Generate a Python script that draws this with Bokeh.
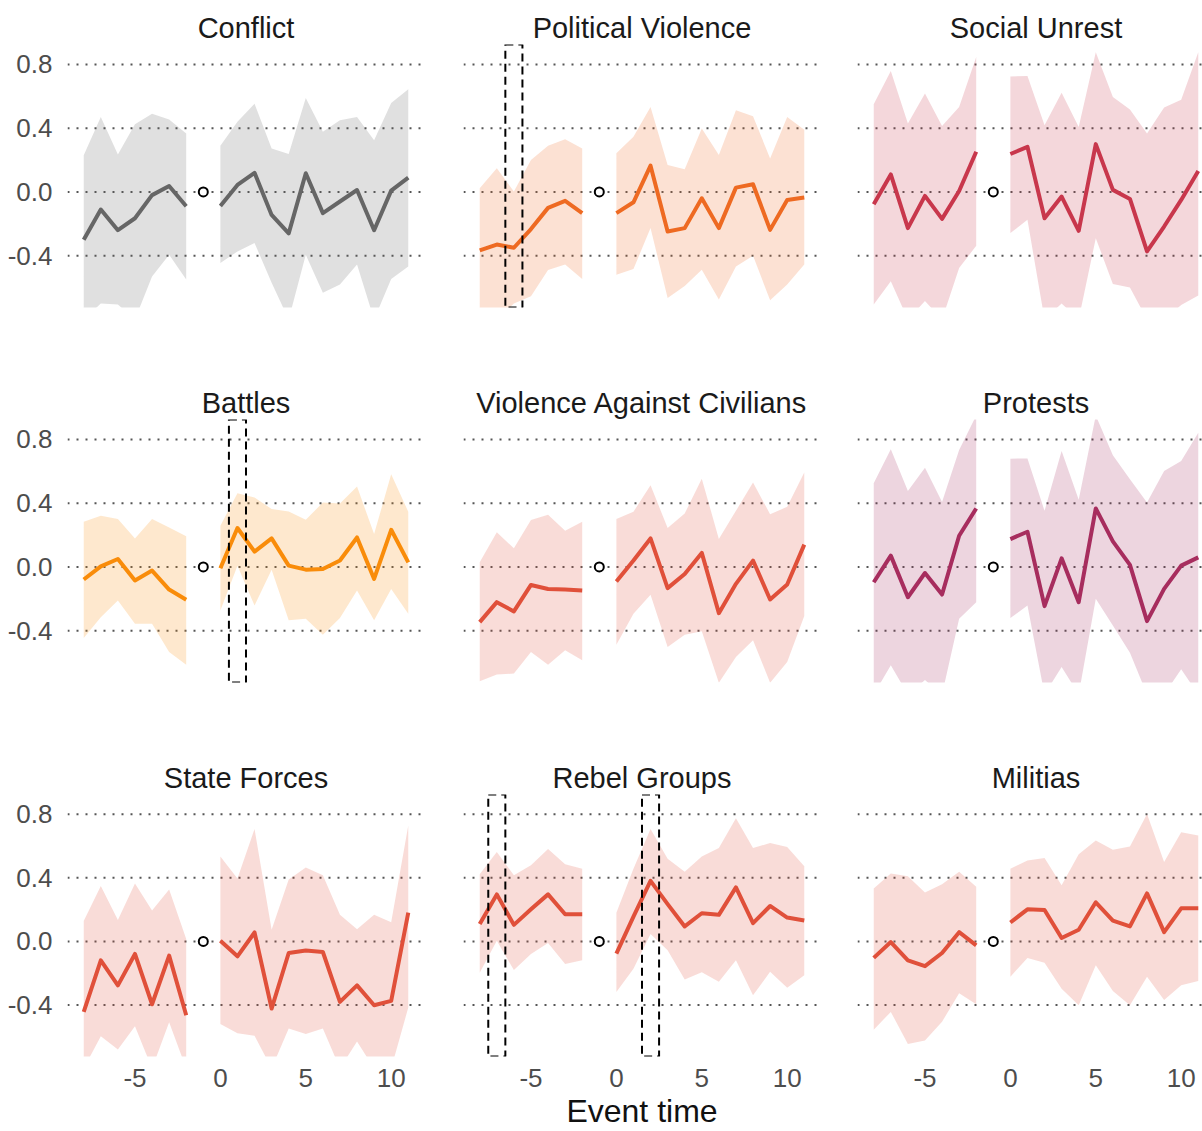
from bokeh.plotting import figure
from bokeh.layouts import gridplot
from bokeh.models import Range1d, FixedTicker, PrintfTickFormatter, Span
from bokeh.embed import file_html
from bokeh.resources import INLINE

# ---------------- data ----------------
event_time = [-8, -7, -6, -5, -4, -3, -2, 0, 1, 2, 3, 4, 5, 6, 7, 8, 9, 10, 11]
ref_time = -1
ref_value = 0.0
y_ticks = [-0.4, 0.0, 0.4, 0.8]
x_ticks = [-5, 0, 5, 10]

conflict_est = [-0.30, -0.11, -0.24, -0.165, -0.02, 0.037, -0.09, -0.088, 0.044, 0.12, -0.144, -0.26, 0.117, -0.133, -0.06, 0.012, -0.24, 0.008, 0.09]
conflict_hi = [0.23, 0.47, 0.235, 0.425, 0.49, 0.455, 0.367, 0.29, 0.44, 0.554, 0.273, 0.238, 0.59, 0.377, 0.45, 0.47, 0.325, 0.558, 0.644]
conflict_lo = [-0.80, -0.70, -0.706, -0.80, -0.53, -0.394, -0.55, -0.446, -0.373, -0.32, -0.57, -0.80, -0.394, -0.633, -0.58, -0.456, -0.80, -0.546, -0.467]

pv_est = [-0.367, -0.33, -0.35, -0.233, -0.10, -0.056, -0.133, -0.133, -0.065, 0.165, -0.248, -0.227, -0.04, -0.227, 0.027, 0.048, -0.238, -0.05, -0.035]
pv_hi = [0.023, 0.148, 0.002, 0.20, 0.29, 0.33, 0.273, 0.242, 0.346, 0.533, 0.169, 0.142, 0.398, 0.231, 0.513, 0.475, 0.21, 0.47, 0.39]
pv_lo = [-0.80, -0.80, -0.70, -0.654, -0.49, -0.456, -0.546, -0.52, -0.483, -0.227, -0.665, -0.59, -0.488, -0.675, -0.467, -0.40, -0.68, -0.58, -0.456]

su_est = [-0.077, 0.11, -0.227, -0.025, -0.169, 0.006, 0.252, 0.238, 0.283, -0.165, -0.029, -0.244, 0.30, 0.013, -0.044, -0.373, -0.217, -0.05, 0.131]
su_hi = [0.55, 0.758, 0.429, 0.617, 0.413, 0.533, 0.846, 0.725, 0.727, 0.419, 0.623, 0.408, 0.877, 0.596, 0.517, 0.367, 0.529, 0.579, 0.877]
su_lo = [-0.706, -0.56, -0.80, -0.685, -0.80, -0.477, -0.338, -0.258, -0.175, -0.80, -0.70, -0.80, -0.29, -0.577, -0.60, -0.80, -0.80, -0.71, -0.65]

battles_est = [-0.079, 0.004, 0.05, -0.085, -0.023, -0.142, -0.206, -0.008, 0.244, 0.096, 0.179, 0.008, -0.017, -0.013, 0.04, 0.185, -0.075, 0.233, 0.029]
battles_hi = [0.283, 0.321, 0.30, 0.179, 0.30, 0.248, 0.192, 0.258, 0.463, 0.435, 0.363, 0.348, 0.296, 0.404, 0.398, 0.504, 0.206, 0.581, 0.346]
battles_lo = [-0.446, -0.315, -0.21, -0.356, -0.356, -0.533, -0.613, -0.273, 0.008, -0.242, -0.017, -0.335, -0.325, -0.425, -0.321, -0.148, -0.335, -0.138, -0.294]

vac_est = [-0.346, -0.221, -0.279, -0.113, -0.138, -0.142, -0.148, -0.092, 0.04, 0.179, -0.133, -0.044, 0.088, -0.29, -0.106, 0.04, -0.204, -0.11, 0.14]
vac_hi = [0.029, 0.217, 0.117, 0.294, 0.327, 0.227, 0.283, 0.30, 0.346, 0.513, 0.244, 0.335, 0.554, 0.175, 0.352, 0.529, 0.331, 0.377, 0.592]
vac_lo = [-0.717, -0.675, -0.669, -0.533, -0.613, -0.523, -0.585, -0.488, -0.294, -0.175, -0.502, -0.425, -0.404, -0.727, -0.565, -0.46, -0.727, -0.596, -0.308]

protests_est = [-0.096, 0.071, -0.19, -0.038, -0.173, 0.196, 0.367, 0.175, 0.221, -0.246, 0.054, -0.221, 0.367, 0.16, 0.013, -0.34, -0.138, 0.008, 0.06]
protests_hi = [0.525, 0.738, 0.477, 0.623, 0.408, 0.733, 0.95, 0.679, 0.681, 0.352, 0.727, 0.421, 0.95, 0.70, 0.55, 0.404, 0.602, 0.665, 0.842]
protests_lo = [-0.80, -0.617, -0.80, -0.71, -0.80, -0.325, -0.221, -0.321, -0.242, -0.80, -0.627, -0.80, -0.20, -0.367, -0.538, -0.80, -0.80, -0.642, -0.80]

sf_est = [-0.444, -0.119, -0.277, -0.079, -0.396, -0.09, -0.465, 0.004, -0.094, 0.056, -0.423, -0.073, -0.058, -0.067, -0.381, -0.277, -0.402, -0.375, 0.181]
sf_hi = [0.129, 0.348, 0.135, 0.365, 0.194, 0.327, 0.015, 0.535, 0.396, 0.708, 0.073, 0.39, 0.465, 0.417, 0.167, 0.077, 0.167, 0.121, 0.729]
sf_lo = [-0.80, -0.598, -0.681, -0.535, -0.80, -0.51, -0.80, -0.52, -0.579, -0.594, -0.80, -0.548, -0.583, -0.548, -0.80, -0.631, -0.80, -0.80, -0.417]

rebel_est = [0.11, 0.296, 0.104, 0.202, 0.296, 0.171, 0.171, -0.077, 0.156, 0.381, 0.235, 0.094, 0.177, 0.167, 0.34, 0.115, 0.223, 0.15, 0.131]
rebel_hi = [0.423, 0.563, 0.417, 0.479, 0.581, 0.485, 0.458, 0.181, 0.458, 0.708, 0.521, 0.438, 0.535, 0.588, 0.775, 0.588, 0.619, 0.594, 0.473]
rebel_lo = [-0.198, 0.004, -0.181, -0.079, -0.01, -0.142, -0.119, -0.319, -0.173, 0.046, -0.056, -0.24, -0.194, -0.254, -0.119, -0.34, -0.192, -0.292, -0.213]

militia_est = [-0.104, -0.004, -0.119, -0.156, -0.073, 0.058, -0.025, 0.119, 0.202, 0.198, 0.021, 0.073, 0.246, 0.131, 0.094, 0.302, 0.058, 0.208, 0.208]
militia_hi = [0.333, 0.427, 0.41, 0.308, 0.36, 0.438, 0.344, 0.458, 0.51, 0.525, 0.354, 0.548, 0.635, 0.577, 0.598, 0.802, 0.50, 0.688, 0.667]
militia_lo = [-0.556, -0.444, -0.646, -0.625, -0.506, -0.327, -0.396, -0.223, -0.104, -0.135, -0.298, -0.402, -0.15, -0.313, -0.402, -0.223, -0.369, -0.277, -0.25]

titles = ["Conflict", "Political Violence", "Social Unrest",
          "Battles", "Violence Against Civilians", "Protests",
          "State Forces", "Rebel Groups", "Militias"]
highlights = [[], [-6], [], [1], [], [], [], [-7, 2], []]
x_title = "Event time"

# ---------------- styling ----------------
colors = ["#666666", "#ee6a22", "#c8374c",
          "#f98c0a", "#e0503a", "#a72d5e",
          "#e0503a", "#e0503a", "#e0503a"]
series = [(conflict_est, conflict_lo, conflict_hi), (pv_est, pv_lo, pv_hi), (su_est, su_lo, su_hi),
          (battles_est, battles_lo, battles_hi), (vac_est, vac_lo, vac_hi), (protests_est, protests_lo, protests_hi),
          (sf_est, sf_lo, sf_hi), (rebel_est, rebel_lo, rebel_hi), (militia_est, militia_lo, militia_hi)]

FONT = "Liberation Sans"
TITLE_PX = 29
# Arial/Liberation Sans advance widths (per 1000 em) to centre titles over the full (cropped) panel
ADV = {"S": 667, "o": 556, "c": 500, "i": 222, "a": 556, "l": 222, " ": 278, "U": 722,
       "n": 556, "r": 333, "e": 556, "s": 500, "t": 278, "P": 667, "M": 833}

Y_LO, Y_HI = -0.725, 0.925
X_LO, X_HI = -8.95, 11.95
FRAME_H = 263
frame_w = [357, 357, 345]
full_w = 357
border_l = [67, 19, 19]
border_r = [20, 18, 0]
border_t = [44, 44, 44]
border_b = [68, 68, 74]
ppx = full_w / (X_HI - X_LO)

pre_idx = [i for i, t in enumerate(event_time) if t < ref_time]
post_idx = [i for i, t in enumerate(event_time) if t > ref_time]

figs = []
for k in range(9):
    r, c = divmod(k, 3)
    est, lo, hi = series[k]
    col = colors[k]
    x_end = X_LO + frame_w[c] / ppx
    p = figure(width=border_l[c] + frame_w[c] + border_r[c],
               height=border_t[r] + FRAME_H + border_b[r],
               x_range=Range1d(X_LO, x_end), y_range=Range1d(Y_LO, Y_HI),
               output_backend="svg", toolbar_location=None,
               x_axis_location="below" if r == 2 else None,
               y_axis_location="left" if c == 0 else None,
               min_border_left=border_l[c], min_border_right=border_r[c],
               min_border_top=border_t[r], min_border_bottom=border_b[r])
    p.outline_line_color = None
    p.grid.visible = False
    p.background_fill_color = "white"
    p.border_fill_color = "white"

    p.title.text = titles[k]
    p.title.text_font = FONT
    p.title.text_font_size = f"{TITLE_PX}px"
    p.title.text_font_style = "normal"
    p.title.text_color = "#1a1a1a"
    p.title.standoff = 2
    if frame_w[c] < full_w:
        tw = sum(ADV.get(ch, 556) for ch in titles[k]) / 1000 * TITLE_PX
        p.title.align = "right"
        p.title.offset = frame_w[c] - (full_w / 2 + tw / 2)
    else:
        p.title.align = "center"

    for t in y_ticks:
        p.add_layout(Span(location=t, dimension="width", line_color="#555555",
                          line_width=2, line_dash="2 7", level="underlay"))

    for idx in (pre_idx, post_idx):
        xs = [event_time[i] for i in idx]
        p.varea(x=xs, y1=[lo[i] for i in idx], y2=[hi[i] for i in idx],
                fill_color=col, fill_alpha=0.2)
        p.line(x=xs, y=[est[i] for i in idx], line_color=col, line_width=4,
               line_join="round")

    p.scatter(x=[ref_time], y=[ref_value], marker="circle", size=9,
              fill_color="white", line_color="black", line_width=2)

    hl = highlights[k]
    if hl:
        p.quad(left=[h - 0.5 for h in hl], right=[h + 0.5 for h in hl],
               bottom=[Y_LO] * len(hl), top=[Y_HI] * len(hl),
               fill_color=None, line_color="black", line_width=2, line_dash="8 5")

    if c == 0:
        ax = p.yaxis[0]
        ax.ticker = FixedTicker(ticks=y_ticks)
        ax.formatter = PrintfTickFormatter(format="%.1f")
        ax.major_label_standoff = 15
    if r == 2:
        ax = p.xaxis[0]
        ax.ticker = FixedTicker(ticks=x_ticks)
        ax.formatter = PrintfTickFormatter(format="%d")
        ax.major_label_standoff = 12
        ax.axis_label = x_title if c == 1 else " "
        ax.axis_label_text_font = FONT
        ax.axis_label_text_font_size = "32px"
        ax.axis_label_text_font_style = "normal"
        ax.axis_label_text_color = "#111111"
        ax.axis_label_standoff = 3
    for ax in list(p.xaxis) + list(p.yaxis):
        ax.axis_line_color = None
        ax.major_tick_line_color = None
        ax.minor_tick_line_color = None
        ax.major_tick_in = 0
        ax.major_tick_out = 0
        ax.minor_tick_in = 0
        ax.minor_tick_out = 0
        ax.major_label_text_font = FONT
        ax.major_label_text_font_size = "26px"
        ax.major_label_text_color = "#4d4d4d"
    figs.append(p)

grid = gridplot([figs[0:3], figs[3:6], figs[6:9]], toolbar_location=None)

open("out.html", "w").write(file_html(grid, INLINE))
